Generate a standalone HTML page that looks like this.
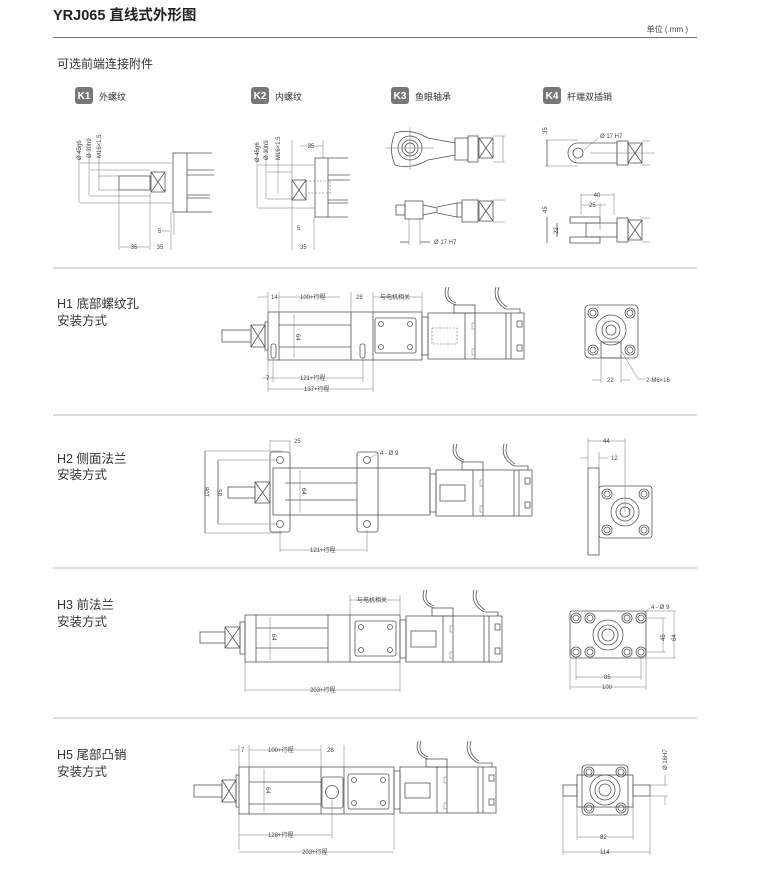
<!DOCTYPE html>
<html><head><meta charset="utf-8">
<style>
html,body{margin:0;padding:0;background:#fff;}
svg{display:block;}
text{font-family:"Liberation Sans","Noto Sans CJK SC",sans-serif;fill:#333;}
.d{font-size:6px;fill:#444;}
.s{fill:none;stroke:#555;stroke-width:0.8;}
.t{fill:none;stroke:#777;stroke-width:0.5;}
.dash{fill:none;stroke:#666;stroke-width:0.6;stroke-dasharray:2 1.5;}
</style></head><body>
<svg width="761" height="891" viewBox="0 0 761 891" xmlns="http://www.w3.org/2000/svg">
<defs>
<g id="motor">
  <rect x="-6" y="4" width="6" height="38" class="s"/>
  <rect x="0" y="0" width="96" height="46" class="s"/>
  <line x1="37" y1="0" x2="37" y2="46" class="s"/>
  <line x1="47" y1="0" x2="47" y2="46" class="s"/>
  <line x1="78" y1="0" x2="78" y2="46" class="s"/>
  <line x1="83" y1="0" x2="83" y2="46" class="s"/>
  <rect x="26" y="-8" width="21" height="8" class="s"/>
  <path d="M18 -26 q-4 14 10 18 M21 -26 q-4 12 7 16" class="s"/>
  <path d="M68 -26 q-4 14 10 22 h14 v4 M71 -26 q-4 12 8 20" class="s"/>
  <rect x="89" y="8" width="5" height="6" class="s"/>
  <rect x="89" y="32" width="5" height="6" class="s"/>
  <rect x="44" y="10" width="3" height="6" class="t"/>
  <rect x="44" y="36" width="3" height="6" class="t"/>
</g>
<g id="xbox">
  <rect x="0" y="0" width="14" height="20" class="s"/>
  <path d="M0 0 L14 20 M14 0 L0 20" class="s"/>
</g>
<g id="cover">
  <rect x="0" y="0" width="41" height="35" rx="2" class="s"/>
  <circle cx="6" cy="6" r="2.5" class="s"/><circle cx="35" cy="6" r="2.5" class="s"/>
  <circle cx="6" cy="29" r="2.5" class="s"/><circle cx="35" cy="29" r="2.5" class="s"/>
</g>
<g id="hole"><circle r="5" class="s"/><circle r="3" class="s"/></g>
</defs>

<!-- Header -->
<text x="53" y="20" style="font-size:14.5px;font-weight:bold;fill:#222">YRJ065 直线式外形图</text>
<text x="688" y="32" text-anchor="end" style="font-size:8px;fill:#444">单位 ( mm )</text>
<line x1="53" y1="37.5" x2="697" y2="37.5" stroke="#777" stroke-width="1"/>
<text x="57" y="68" style="font-size:12px;fill:#333">可选前端连接附件</text>

<!-- K badges -->
<g style="font-size:9px">
<rect x="75" y="87" width="18" height="17" rx="3" fill="#777"/><text x="84" y="99" text-anchor="middle" style="fill:#fff;font-weight:bold;font-size:10px">K1</text><text x="99" y="100" style="font-size:9px">外螺纹</text>
<rect x="251" y="87" width="18" height="17" rx="3" fill="#777"/><text x="260" y="99" text-anchor="middle" style="fill:#fff;font-weight:bold;font-size:10px">K2</text><text x="275" y="100" style="font-size:9px">内螺纹</text>
<rect x="391" y="87" width="18" height="17" rx="3" fill="#777"/><text x="400" y="99" text-anchor="middle" style="fill:#fff;font-weight:bold;font-size:10px">K3</text><text x="415" y="100" style="font-size:9px">鱼眼轴承</text>
<rect x="543" y="87" width="18" height="17" rx="3" fill="#777"/><text x="552" y="99" text-anchor="middle" style="fill:#fff;font-weight:bold;font-size:10px">K4</text><text x="567" y="100" style="font-size:9px">杆端双插销</text>
</g>

<!-- K1 -->
<g>
<rect x="173" y="153" width="14" height="59" class="s"/>
<path d="M187 153 H212 M187 212 H212 M187 170 H214 M187 175 H214 M187 195 H210 M187 198 H210" class="s"/>
<line x1="80" y1="163" x2="173" y2="163" class="t"/><line x1="80" y1="203" x2="173" y2="203" class="t"/>
<line x1="90" y1="170" x2="150" y2="170" class="t"/><line x1="90" y1="196" x2="150" y2="196" class="t"/>
<line x1="98" y1="176" x2="119" y2="176" class="t"/><line x1="98" y1="190" x2="119" y2="190" class="t"/>
<rect x="119" y="176" width="31" height="14" class="s"/>
<use href="#xbox" x="151" y="172"/>
<line x1="79" y1="150" x2="79" y2="203" class="t"/><line x1="89" y1="150" x2="89" y2="196" class="t"/><line x1="99" y1="150" x2="99" y2="190" class="t"/>
<text class="d" transform="translate(81,160) rotate(-90)">Ø 45g6</text>
<text class="d" transform="translate(91,158) rotate(-90)">Ø 30h9</text>
<text class="d" transform="translate(101,158) rotate(-90)">M16×1.5</text>
<line x1="119" y1="190" x2="119" y2="250" class="t"/><line x1="150" y1="193" x2="150" y2="250" class="t"/>
<line x1="171" y1="212" x2="171" y2="250" class="t"/><line x1="174" y1="212" x2="174" y2="235" class="t"/>
<line x1="120" y1="247" x2="149" y2="247" class="t"/><text x="134" y="249" class="d" text-anchor="middle" style="fill:#444">35</text>
<text x="160" y="249" class="d" text-anchor="middle">35</text>
<text x="158" y="233" class="d">5</text><line x1="162" y1="231" x2="170" y2="231" class="t"/>
</g>

<!-- K2 -->
<g>
<rect x="315" y="158" width="13" height="59" class="s"/>
<path d="M328 158 H348 M328 217 H348 M328 175 H350 M328 180 H350 M328 200 H348 M328 203 H348" class="s"/>
<line x1="258" y1="165" x2="315" y2="165" class="t"/><line x1="258" y1="208" x2="315" y2="208" class="t"/>
<line x1="267" y1="172" x2="292" y2="172" class="t"/><line x1="267" y1="199" x2="292" y2="199" class="t"/>
<use href="#xbox" x="292" y="180"/>
<rect x="306" y="181" width="24" height="12" class="dash"/>
<line x1="257" y1="150" x2="257" y2="208" class="t"/><line x1="266" y1="150" x2="266" y2="199" class="t"/><line x1="278" y1="150" x2="278" y2="193" class="t"/>
<text class="d" transform="translate(259,162) rotate(-90)">Ø 45g6</text>
<text class="d" transform="translate(268,160) rotate(-90)">Ø 30h9</text>
<text class="d" transform="translate(280,160) rotate(-90)">M16×1.5</text>
<line x1="300" y1="146" x2="323" y2="146" class="t"/><text x="311" y="148" class="d" text-anchor="middle">35</text>
<line x1="292" y1="140" x2="292" y2="250" class="t"/><line x1="323" y1="140" x2="323" y2="158" class="t"/>
<line x1="314" y1="217" x2="314" y2="250" class="t"/>
<text x="297" y="230" class="d">5</text>
<text x="300" y="249" class="d">35</text>
</g>

<!-- K3 -->
<g>
<path d="M395 133 Q410 128 428 138 L455 143 L455 155 L428 160 Q410 170 395 165 Q388 149 395 133 Z" class="s"/>
<circle cx="410" cy="148" r="12" class="s"/><circle cx="410" cy="148" r="8" class="s"/><circle cx="410" cy="148" r="5" class="s"/>
<line x1="410" y1="127" x2="410" y2="170" class="t"/><line x1="386" y1="148" x2="434" y2="148" class="t"/>
<rect x="455" y="138" width="13" height="22" class="s"/><rect x="468" y="136" width="10" height="26" class="s"/>
<use href="#xbox" x="479" y="138"/>
<path d="M493 136 H505 M493 162 H505 M503 136 v26" class="t"/>
<rect x="396" y="205" width="9" height="10" class="s"/><rect x="405" y="201" width="18" height="18" class="s"/>
<path d="M423 205 L437 208 L437 212 L423 215 M437 207 L457 203 M437 213 L457 217" class="s"/>
<rect x="457" y="203" width="5" height="14" class="s"/><rect x="462" y="200" width="16" height="22" class="s"/>
<use href="#xbox" x="479" y="201"/>
<path d="M493 200 H505 M493 222 H505" class="t"/>
<line x1="409" y1="218" x2="409" y2="245" class="t"/><line x1="420" y1="218" x2="420" y2="245" class="t"/>
<line x1="400" y1="242" x2="409" y2="242" class="s"/><line x1="420" y1="242" x2="430" y2="242" class="s"/>
<text x="434" y="244" class="d">Ø 17 H7</text>
</g>

<!-- K4 -->
<g>
<path d="M578 143 A10 10 0 1 0 578 163 L617 163 L617 143 Z" class="s"/>
<circle cx="578" cy="153" r="5" class="s"/>
<line x1="584" y1="150" x2="598" y2="138" class="t"/><text x="600" y="138" class="d">Ø 17 H7</text>
<rect x="617" y="141" width="11" height="24" class="s"/><use href="#xbox" x="628" y="143"/>
<path d="M642 141 H650 M642 165 H650 M590 153 H655" class="t"/>
<line x1="545" y1="140" x2="578" y2="140" class="t"/><line x1="545" y1="166" x2="578" y2="166" class="t"/>
<line x1="547" y1="140" x2="547" y2="166" class="s"/>
<text class="d" transform="translate(547,134) rotate(-90)">35</text>
<rect x="570" y="217" width="30" height="6" class="s"/><rect x="570" y="237" width="30" height="6" class="s"/>
<rect x="586" y="223" width="31" height="14" class="s"/>
<rect x="617" y="218" width="11" height="24" class="s"/><use href="#xbox" x="628" y="220"/>
<path d="M642 218 H650 M642 242 H650" class="t"/>
<line x1="581" y1="193" x2="581" y2="215" class="t"/><line x1="600" y1="203" x2="600" y2="230" class="t"/><line x1="614" y1="193" x2="614" y2="215" class="t"/>
<line x1="581" y1="195" x2="614" y2="195" class="t"/><text x="597" y="197" class="d" text-anchor="middle">40</text>
<line x1="581" y1="205" x2="606" y2="205" class="t"/><text x="589" y="207" class="d">25</text>
<line x1="547" y1="217" x2="547" y2="243" class="s"/><line x1="557" y1="223" x2="557" y2="237" class="s"/>
<text class="d" transform="translate(547,213) rotate(-90)">45</text>
<text class="d" transform="translate(558,234) rotate(-90)">22</text>
</g>

<line x1="53" y1="268" x2="697" y2="268" stroke="#bbb" stroke-width="1"/>

<!-- H1 -->
<text x="57" y="308" style="font-size:12.5px">H1  底部螺纹孔</text>
<text x="57" y="325" style="font-size:12.5px">安装方式</text>
<g>
<rect x="222" y="330" width="29" height="12" class="s"/>
<rect x="251" y="325" width="14" height="22" class="s"/><path d="M251 325 L265 347 M265 325 L251 347" class="s"/>
<rect x="265" y="322" width="3" height="28" class="s"/>
<rect x="268" y="312" width="154" height="48" class="s"/>
<line x1="279" y1="312" x2="279" y2="360" class="s"/><line x1="351" y1="312" x2="351" y2="360" class="s"/><line x1="373" y1="312" x2="373" y2="360" class="s"/>
<line x1="279" y1="325" x2="351" y2="325" class="s"/><line x1="279" y1="347" x2="351" y2="347" class="s"/>
<line x1="294" y1="314" x2="294" y2="358" class="t"/><text class="d" transform="translate(296,334) rotate(90)">64</text>
<rect x="271" y="344" width="5" height="14" rx="2" class="s"/><rect x="360" y="344" width="5" height="14" rx="2" class="s"/>
<use href="#cover" x="375" y="318"/>
<use href="#motor" x="428" y="313"/>
<rect x="432" y="328" width="25" height="16" class="dash"/>
<line x1="258" y1="297" x2="268" y2="297" class="t"/><text x="271" y="299" class="d">14</text>
<line x1="279" y1="297" x2="340" y2="297" class="t"/><text x="300" y="299" class="d">100+行程</text>
<text x="356" y="299" class="d">28</text>
<line x1="373" y1="297" x2="422" y2="297" class="t"/><text x="380" y="299" class="d">与电机相关</text>
<path d="M268 292 V392 M279 292 V312 M351 292 V312 M373 292 V392 M422 292 V312 M273 358 V382 M363 358 V382" class="t"/>
<line x1="262" y1="378" x2="363" y2="378" class="t"/><text x="300" y="380" class="d">121+行程</text>
<text x="266" y="380" class="d">7</text>
<line x1="268" y1="389" x2="373" y2="389" class="t"/><text x="304" y="391" class="d">137+行程</text>
</g>
<g>
<rect x="585" y="305" width="53" height="53" rx="4" class="s"/>
<use href="#hole" x="593" y="313"/><use href="#hole" x="630" y="313"/><use href="#hole" x="593" y="350"/><use href="#hole" x="630" y="350"/>
<circle cx="611" cy="330" r="15" class="s"/><circle cx="611" cy="330" r="9" class="s"/><circle cx="611" cy="330" r="5" class="s"/>
<rect x="601" y="342" width="20" height="16" class="s"/>
<path d="M601 358 V383 M621 358 V383" class="t"/>
<line x1="592" y1="380" x2="601" y2="380" class="t"/><line x1="621" y1="380" x2="630" y2="380" class="t"/>
<text x="607" y="382" class="d">22</text>
<path d="M622 352 L638 379 H645" class="t"/><text x="646" y="382" class="d">2-M6×16</text>
</g>

<line x1="53" y1="415" x2="697" y2="415" stroke="#bbb" stroke-width="1"/>

<!-- H2 -->
<text x="57" y="463" style="font-size:12.5px">H2  侧面法兰</text>
<text x="57" y="479" style="font-size:12.5px">安装方式</text>
<g>
<rect x="228" y="487" width="27" height="11" class="s"/>
<rect x="255" y="482" width="15" height="21" class="s"/><path d="M255 482 L270 503 M270 482 L255 503" class="s"/>
<rect x="270" y="452" width="20" height="80" rx="2" class="s"/>
<circle cx="280" cy="460" r="3.5" class="s"/><circle cx="280" cy="524" r="3.5" class="s"/>
<rect x="273" y="468" width="157" height="47" class="s"/>
<line x1="285" y1="483" x2="357" y2="483" class="s"/><line x1="285" y1="500" x2="357" y2="500" class="s"/>
<rect x="357" y="452" width="21" height="80" rx="2" class="s"/>
<circle cx="367" cy="460" r="3.5" class="s"/><circle cx="367" cy="524" r="3.5" class="s"/>
<line x1="300" y1="470" x2="300" y2="513" class="t"/><text class="d" transform="translate(302,488) rotate(90)">64</text>
<use href="#motor" x="436" y="470"/>
<rect x="440" y="485" width="25" height="16" class="s"/>
<path d="M205 451 H282 M205 533 H282 M218 460 H278 M218 524 H278" class="t"/>
<line x1="205" y1="451" x2="205" y2="533" class="s"/><line x1="218" y1="460" x2="218" y2="524" class="s"/>
<text class="d" transform="translate(209,497) rotate(-90)">108</text>
<text class="d" transform="translate(222,496) rotate(-90)">85</text>
<path d="M270 440 V452 M290 440 V452 M280 530 V552 M367 530 V552" class="t"/>
<line x1="270" y1="441" x2="290" y2="441" class="t"/><text x="294" y="443" class="d">25</text>
<text x="380" y="455" class="d">4 - Ø 9</text><line x1="370" y1="458" x2="378" y2="453" class="t"/>
<line x1="280" y1="550" x2="367" y2="550" class="t"/><text x="310" y="552" class="d">121+行程</text>
</g>
<g>
<rect x="588" y="468" width="11" height="87" class="s"/>
<rect x="599" y="486" width="53" height="52" rx="3" class="s"/>
<use href="#hole" x="607" y="494"/><use href="#hole" x="644" y="494"/><use href="#hole" x="607" y="530"/><use href="#hole" x="644" y="530"/>
<circle cx="625" cy="512" r="14" class="s"/><circle cx="625" cy="512" r="9" class="s"/><circle cx="625" cy="512" r="5" class="s"/>
<path d="M588 438 V468 M625 438 V512 M599 452 V468" class="t"/>
<line x1="588" y1="441" x2="625" y2="441" class="t"/><text x="603" y="443" class="d">44</text>
<line x1="580" y1="458" x2="588" y2="458" class="t"/><line x1="599" y1="458" x2="608" y2="458" class="t"/><text x="611" y="460" class="d">12</text>
</g>

<line x1="53" y1="568" x2="697" y2="568" stroke="#bbb" stroke-width="1"/>

<!-- H3 -->
<text x="57" y="609" style="font-size:12.5px">H3  前法兰</text>
<text x="57" y="626" style="font-size:12.5px">安装方式</text>
<g>
<rect x="200" y="632" width="25" height="11" class="s"/>
<rect x="225" y="627" width="15" height="21" class="s"/><path d="M225 627 L240 648 M240 627 L225 648" class="s"/>
<rect x="240" y="622" width="5" height="32" class="s"/>
<rect x="245" y="615" width="155" height="47" class="s"/>
<line x1="256" y1="615" x2="256" y2="662" class="s"/><line x1="328" y1="615" x2="328" y2="662" class="s"/><line x1="350" y1="615" x2="350" y2="662" class="s"/>
<line x1="256" y1="628" x2="328" y2="628" class="s"/><line x1="256" y1="648" x2="328" y2="648" class="s"/>
<line x1="270" y1="617" x2="270" y2="660" class="t"/><text class="d" transform="translate(272,634) rotate(90)">64</text>
<use href="#cover" x="355" y="621"/>
<use href="#motor" x="406" y="616"/>
<rect x="411" y="631" width="25" height="16" class="s"/>
<path d="M245 662 V692 M400 662 V692 M350 595 V615 M400 595 V615" class="t"/>
<line x1="350" y1="600" x2="400" y2="600" class="t"/><text x="357" y="602" class="d">与电机相关</text>
<line x1="245" y1="690" x2="400" y2="690" class="t"/><text x="310" y="692" class="d">203+行程</text>
</g>
<g>
<rect x="570" y="611" width="76" height="47" rx="2" class="s"/>
<use href="#hole" x="576" y="618"/><use href="#hole" x="641" y="618"/><use href="#hole" x="576" y="652"/><use href="#hole" x="641" y="652"/>
<use href="#hole" x="590" y="618"/><use href="#hole" x="627" y="618"/><use href="#hole" x="590" y="652"/><use href="#hole" x="627" y="652"/>
<circle cx="608" cy="635" r="15" class="s"/><circle cx="608" cy="635" r="10" class="s"/><circle cx="608" cy="635" r="6" class="s"/>
<path d="M646 618 H666 M646 652 H666 M646 611 H676 M646 658 H676" class="t"/>
<line x1="663" y1="618" x2="663" y2="652" class="t"/><line x1="674" y1="611" x2="674" y2="658" class="t"/>
<text class="d" transform="translate(665,641) rotate(-90)">45</text><text class="d" transform="translate(676,641) rotate(-90)">64</text>
<path d="M576 658 V680 M641 658 V680 M570 658 V690 M646 658 V690" class="t"/>
<line x1="576" y1="677" x2="641" y2="677" class="t"/><text x="604" y="679" class="d">85</text>
<line x1="570" y1="687" x2="646" y2="687" class="t"/><text x="602" y="689" class="d">100</text>
<text x="651" y="609" class="d">4 - Ø 9</text><line x1="643" y1="614" x2="650" y2="608" class="t"/>
</g>

<line x1="53" y1="718" x2="697" y2="718" stroke="#bbb" stroke-width="1"/>

<!-- H5 -->
<text x="57" y="759" style="font-size:12.5px">H5  尾部凸销</text>
<text x="57" y="776" style="font-size:12.5px">安装方式</text>
<g>
<rect x="194" y="785" width="28" height="12" class="s"/>
<rect x="222" y="780" width="14" height="22" class="s"/><path d="M222 780 L236 802 M236 780 L222 802" class="s"/>
<rect x="236" y="775" width="3" height="32" class="s"/>
<rect x="239" y="767" width="155" height="47" class="s"/>
<line x1="249" y1="767" x2="249" y2="814" class="s"/><line x1="321" y1="767" x2="321" y2="814" class="s"/><line x1="344" y1="767" x2="344" y2="814" class="s"/>
<line x1="249" y1="782" x2="321" y2="782" class="s"/><line x1="249" y1="804" x2="321" y2="804" class="s"/>
<rect x="322" y="777" width="21" height="31" rx="2" class="s"/><circle cx="332" cy="792" r="6.5" class="s"/>
<line x1="264" y1="769" x2="264" y2="812" class="t"/><text class="d" transform="translate(266,787) rotate(90)">64</text>
<use href="#cover" x="348" y="774"/>
<use href="#motor" x="400" y="767"/>
<rect x="405" y="783" width="25" height="15" class="s"/>
<path d="M239 745 V850 M249 745 V767 M321 745 V767 M344 745 V767 M394 814 V850 M332 798 V838" class="t"/>
<line x1="230" y1="750" x2="239" y2="750" class="t"/><text x="241" y="752" class="d">7</text>
<line x1="249" y1="750" x2="321" y2="750" class="t"/><text x="268" y="752" class="d">100+行程</text>
<text x="327" y="752" class="d">28</text>
<line x1="239" y1="835" x2="332" y2="835" class="t"/><text x="268" y="837" class="d">128+行程</text>
<line x1="239" y1="852" x2="394" y2="852" class="t"/><text x="302" y="854" class="d">203+行程</text>
</g>
<g>
<rect x="563" y="785" width="14" height="11" class="s"/><rect x="633" y="785" width="17" height="11" class="s"/>
<rect x="577" y="775" width="56" height="32" class="s"/>
<rect x="582" y="765" width="46" height="50" rx="4" class="s"/>
<use href="#hole" x="589" y="772"/><use href="#hole" x="621" y="772"/><use href="#hole" x="589" y="808"/><use href="#hole" x="621" y="808"/>
<circle cx="605" cy="790" r="15" class="s"/><circle cx="605" cy="790" r="10" class="s"/><circle cx="605" cy="790" r="6" class="s"/>
<path d="M577 807 V840 M633 807 V840 M563 796 V855 M650 796 V855 M650 785 H668 M650 796 H668" class="t"/>
<line x1="665" y1="775" x2="665" y2="785" class="t"/><line x1="665" y1="796" x2="665" y2="805" class="t"/>
<text class="d" transform="translate(667,770) rotate(-90)">Ø 16H7</text>
<line x1="577" y1="837" x2="633" y2="837" class="t"/><text x="600" y="839" class="d">82</text>
<line x1="563" y1="852" x2="650" y2="852" class="t"/><text x="600" y="854" class="d">114</text>
</g>
</svg>
</body></html>
